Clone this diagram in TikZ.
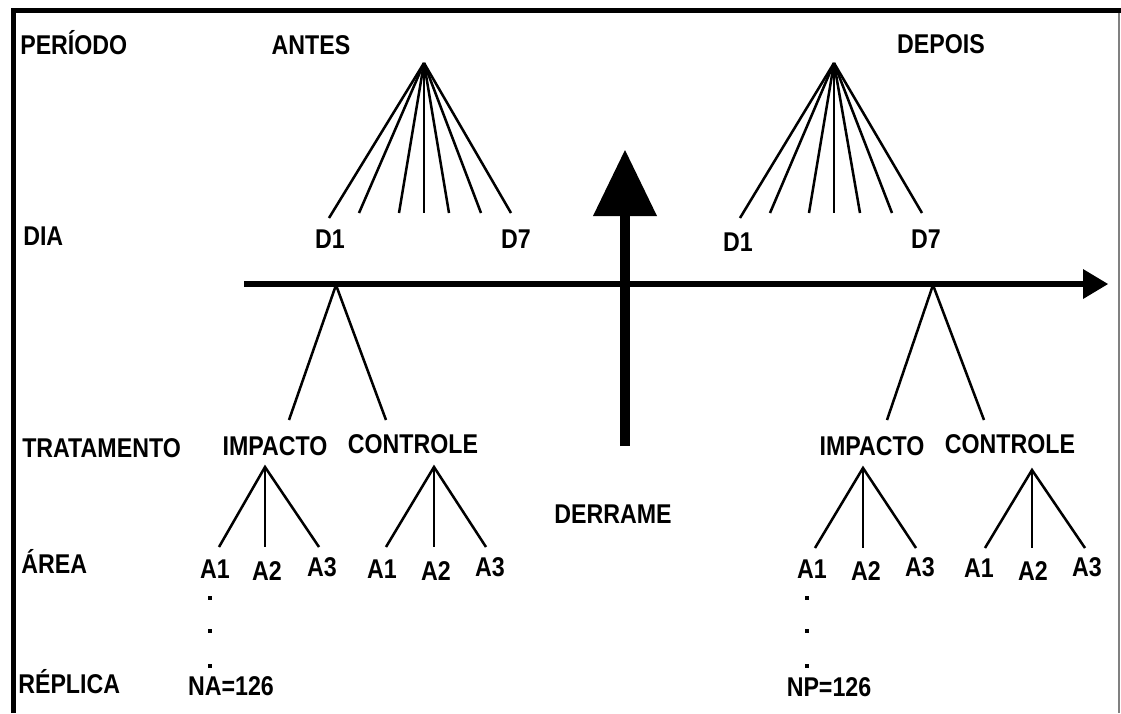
\documentclass[tikz,border=0pt]{standalone}
\usepackage{fontspec}
\setmainfont{Liberation Sans}[FakeStretch=0.855]
\usetikzlibrary{arrows.meta}
\begin{document}
\begin{tikzpicture}[x=0.025cm, y=-0.025cm]
        \tikzstyle{lbl}=[font=\fontsize{19.3}{22}\selectfont\bfseries,
            inner sep=0pt, anchor=base]
        \tikzstyle{row}=[lbl, anchor=base west]
        \tikzstyle{branch}=[line width=1.8pt]
        \tikzstyle{dot}=[fill, rectangle, minimum size=0.11cm, inner sep=0pt]

        \useasboundingbox (0,0) rectangle (1121,713);
        \fill[white] (0,0) rectangle (1121,713);
        \draw[line width=3.5pt] (13.5,713) -- (13.5,10.5) -- (1121,10.5);
        \draw[gray, line width=0.8pt] (1119,13) -- (1119,713);

        \node[row] (P) at (20,54) {PERÍODO};
        \node[row] (D) at (23,245) {DIA};
        \node[row] (T) at (22,457) {TRATAMENTO};
        \node[row] (A) at (21,573) {ÁREA};
        \node[row] (R) at (18,693) {RÉPLICA};

        \node[lbl] (antes) at (311,54) {ANTES};
        \node[lbl] (depois) at (941,53) {DEPOIS};

        % dias
        \coordinate (pa) at (424,63);
        \coordinate (pd) at (834,63);
        \foreach \x/\y [count=\i] in {329/218,359/213,399/213,424/213,449/213,481/213,511/213} {
            \coordinate (a\i) at (\x,\y);
            \draw[branch] (pa) -- (a\i);
        }
        \foreach \x/\y [count=\i] in {740/218,770/213,809/213,834/213,860/213,892/213,922/213} {
            \coordinate (d\i) at (\x,\y);
            \draw[branch] (pd) -- (d\i);
        }
        \node[lbl] (aD1) at (330,248) {D1};
        \node[lbl] (aD7) at (516,248) {D7};
        \node[lbl] (dD1) at (738,251) {D1};
        \node[lbl] (dD7) at (926,248) {D7};

        % tempo e derrame
        \coordinate (t0) at (244,284);
        \coordinate (t1) at (1108,284);
        \draw[line width=4pt, -{Triangle[length=0.625cm, width=0.75cm, line width=0pt]}] (t0) -- (t1);
        \coordinate (s0) at (625,446);
        \coordinate (s1) at (625,150);
        \draw[line width=0.25cm, -{Triangle[length=1.65cm, width=1.6cm, line width=0pt]}] (s0) -- (s1);
        \node[lbl] (derr) at (613,523) {DERRAME};

        % tratamentos
        \coordinate (ta) at (336,285);
        \coordinate (ta1) at (289,420);
        \coordinate (ta2) at (386,420);
        \draw[branch] (ta1) -- (ta) -- (ta2);
        \coordinate (td) at (933,285);
        \coordinate (td1) at (887,420);
        \coordinate (td2) at (984,420);
        \draw[branch] (td1) -- (td) -- (td2);

        \node[lbl] (aI) at (275,455) {IMPACTO};
        \node[lbl] (aC) at (413,453) {CONTROLE};
        \node[lbl] (dI) at (872,455) {IMPACTO};
        \node[lbl] (dC) at (1010,453) {CONTROLE};

        % areas
        \foreach \n/\ax/\ay/\l/\m/\r/\ey in {aI/265/467/219/265/319/547, aC/434/467/386/434/486/547,
            dI/863/468/815/863/916/548, dC/1032/470/985/1032/1085/548} {
            \coordinate (\n o) at (\ax,\ay);
            \coordinate (\n 1) at (\l,\ey);
            \coordinate (\n 2) at (\m,\ey);
            \coordinate (\n 3) at (\r,\ey);
            \draw[branch] (\n 1) -- (\n o) -- (\n 3);
            \draw[branch] (\n o) -- (\n 2);
        }
        \node[lbl] (aIA1) at (215,578) {A1};
        \node[lbl] (aIA2) at (267,580) {A2};
        \node[lbl] (aIA3) at (322,576) {A3};
        \node[lbl] (aCA1) at (382,578) {A1};
        \node[lbl] (aCA2) at (436,580) {A2};
        \node[lbl] (aCA3) at (490,576) {A3};
        \node[lbl] (dIA1) at (812,578) {A1};
        \node[lbl] (dIA2) at (866,580) {A2};
        \node[lbl] (dIA3) at (920,576) {A3};
        \node[lbl] (dCA1) at (979,577) {A1};
        \node[lbl] (dCA2) at (1033,580) {A2};
        \node[lbl] (dCA3) at (1087,576) {A3};

        % replicas
        \foreach \y in {598,631,666} {
            \node[dot] at (210,\y) {};
            \node[dot] at (807,\y) {};
        }
        \node[lbl] (NA) at (231,695) {NA=126};
        \node[lbl] (NP) at (829,696) {NP=126};

    \end{tikzpicture}
\end{document}
